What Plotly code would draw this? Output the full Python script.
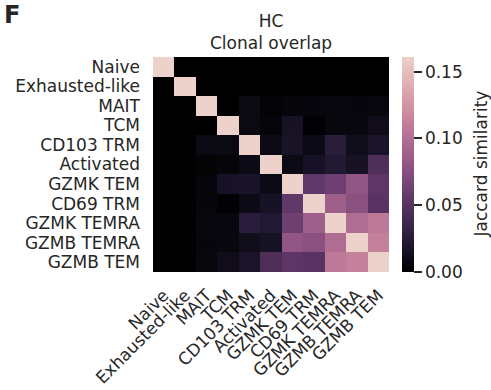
import numpy as np
import plotly.graph_objects as go

cell_types = ["Naive", "Exhausted-like", "MAIT", "TCM", "CD103 TRM", "Activated",
              "GZMK TEM", "CD69 TRM", "GZMK TEMRA", "GZMB TEMRA", "GZMB TEM"]

jaccard = [
    [1.0, 0.000, 0.000, 0.000, 0.000, 0.000, 0.000, 0.000, 0.000, 0.000, 0.000],
    [0.000, 1.0, 0.000, 0.000, 0.001, 0.001, 0.001, 0.001, 0.001, 0.001, 0.001],
    [0.000, 0.000, 1.0, 0.000, 0.008, 0.003, 0.004, 0.005, 0.006, 0.005, 0.006],
    [0.000, 0.000, 0.000, 1.0, 0.008, 0.004, 0.016, 0.002, 0.006, 0.006, 0.011],
    [0.000, 0.001, 0.008, 0.008, 1.0, 0.009, 0.017, 0.009, 0.027, 0.012, 0.018],
    [0.000, 0.001, 0.003, 0.004, 0.009, 1.0, 0.009, 0.016, 0.022, 0.015, 0.045],
    [0.000, 0.001, 0.004, 0.016, 0.017, 0.009, 1.0, 0.055, 0.062, 0.081, 0.053],
    [0.000, 0.001, 0.005, 0.002, 0.009, 0.016, 0.055, 1.0, 0.088, 0.076, 0.051],
    [0.000, 0.001, 0.006, 0.006, 0.027, 0.022, 0.062, 0.088, 1.0, 0.099, 0.108],
    [0.000, 0.001, 0.005, 0.006, 0.012, 0.015, 0.081, 0.076, 0.099, 1.0, 0.113],
    [0.000, 0.001, 0.006, 0.011, 0.018, 0.045, 0.053, 0.051, 0.108, 0.113, 1.0],
]

cbar_ticks = [0.0, 0.05, 0.10, 0.15]
cbar_labels = ["0.00", "0.05", "0.10", "0.15"]
vmax = 0.161

# seaborn-style cubehelix (start=0, rot=0.4, hue=0.8, dark=0, light=0.85, reversed)
def cubehelix(x, start=0.0, rot=0.4, gamma=1.0, hue=0.8):
    xg = x ** gamma
    a = hue * xg * (1 - xg) / 2
    phi = 2 * np.pi * (start / 3 + rot * x)
    r = xg + a * (-0.14861 * np.cos(phi) + 1.78277 * np.sin(phi))
    g = xg + a * (-0.29227 * np.cos(phi) - 0.90649 * np.sin(phi))
    b = xg + a * (1.97294 * np.cos(phi))
    return [min(max(c, 0), 1) for c in (r, g, b)]

n = 40
colorscale = []
for i in range(n):
    t = i / (n - 1)
    r, g, b = cubehelix(0.0 + 0.85 * t)
    colorscale.append([t, f"rgb({int(round(r*255))},{int(round(g*255))},{int(round(b*255))})"])

TXT = "#262626"
FONT = "DejaVu Sans"

fig = go.Figure(go.Heatmap(
    z=jaccard, x=cell_types, y=cell_types,
    zmin=0, zmax=vmax, colorscale=colorscale,
    colorbar=dict(
        x=(402 - 153) / 236, xanchor="left", xpad=0,
        y=0.5, yanchor="middle", len=1.0, lenmode="fraction", ypad=0,
        thickness=12, outlinewidth=0,
        tickvals=cbar_ticks, ticktext=cbar_labels,
        ticks="outside", ticklen=8, tickwidth=1.5, tickcolor=TXT,
        tickfont=dict(family=FONT, size=17, color=TXT),
    ),
))

fig.update_layout(
    width=491, height=390,
    margin=dict(l=153, r=102, t=57, b=118, autoexpand=False),
    paper_bgcolor="white", plot_bgcolor="white",
    font=dict(family=FONT, size=17, color=TXT),
    xaxis=dict(tickangle=-45, ticks="", showgrid=False, zeroline=False,
               showline=False, tickmode="array", tickvals=cell_types,
               tickfont=dict(family=FONT, size=17, color=TXT),
               ticklabelstandoff=9, automargin=False),
    yaxis=dict(autorange="reversed", ticks="", showgrid=False, zeroline=False,
               showline=False, tickmode="array", tickvals=cell_types,
               tickfont=dict(family=FONT, size=17, color=TXT),
               ticklabelstandoff=12, automargin=False),
    annotations=[
        dict(text="HC<br>Clonal overlap", xref="paper", yref="paper", x=0.5, y=1,
             xanchor="center", yanchor="bottom", showarrow=False, yshift=2,
             font=dict(family=FONT, size=17, color=TXT)),
        dict(text="Jaccard similarity", xref="paper", yref="paper",
             x=(480 - 153) / 236, y=0.5, xanchor="center", yanchor="middle",
             textangle=-90, showarrow=False,
             font=dict(family=FONT, size=17, color=TXT)),
        dict(text="<b>F</b>", xref="paper", yref="paper", x=-153 / 236, y=1,
             xanchor="left", yanchor="bottom", yshift=26, xshift=2, showarrow=False,
             font=dict(family=FONT, size=24, color=TXT)),
    ],
)

fig.write_html("out.html")
